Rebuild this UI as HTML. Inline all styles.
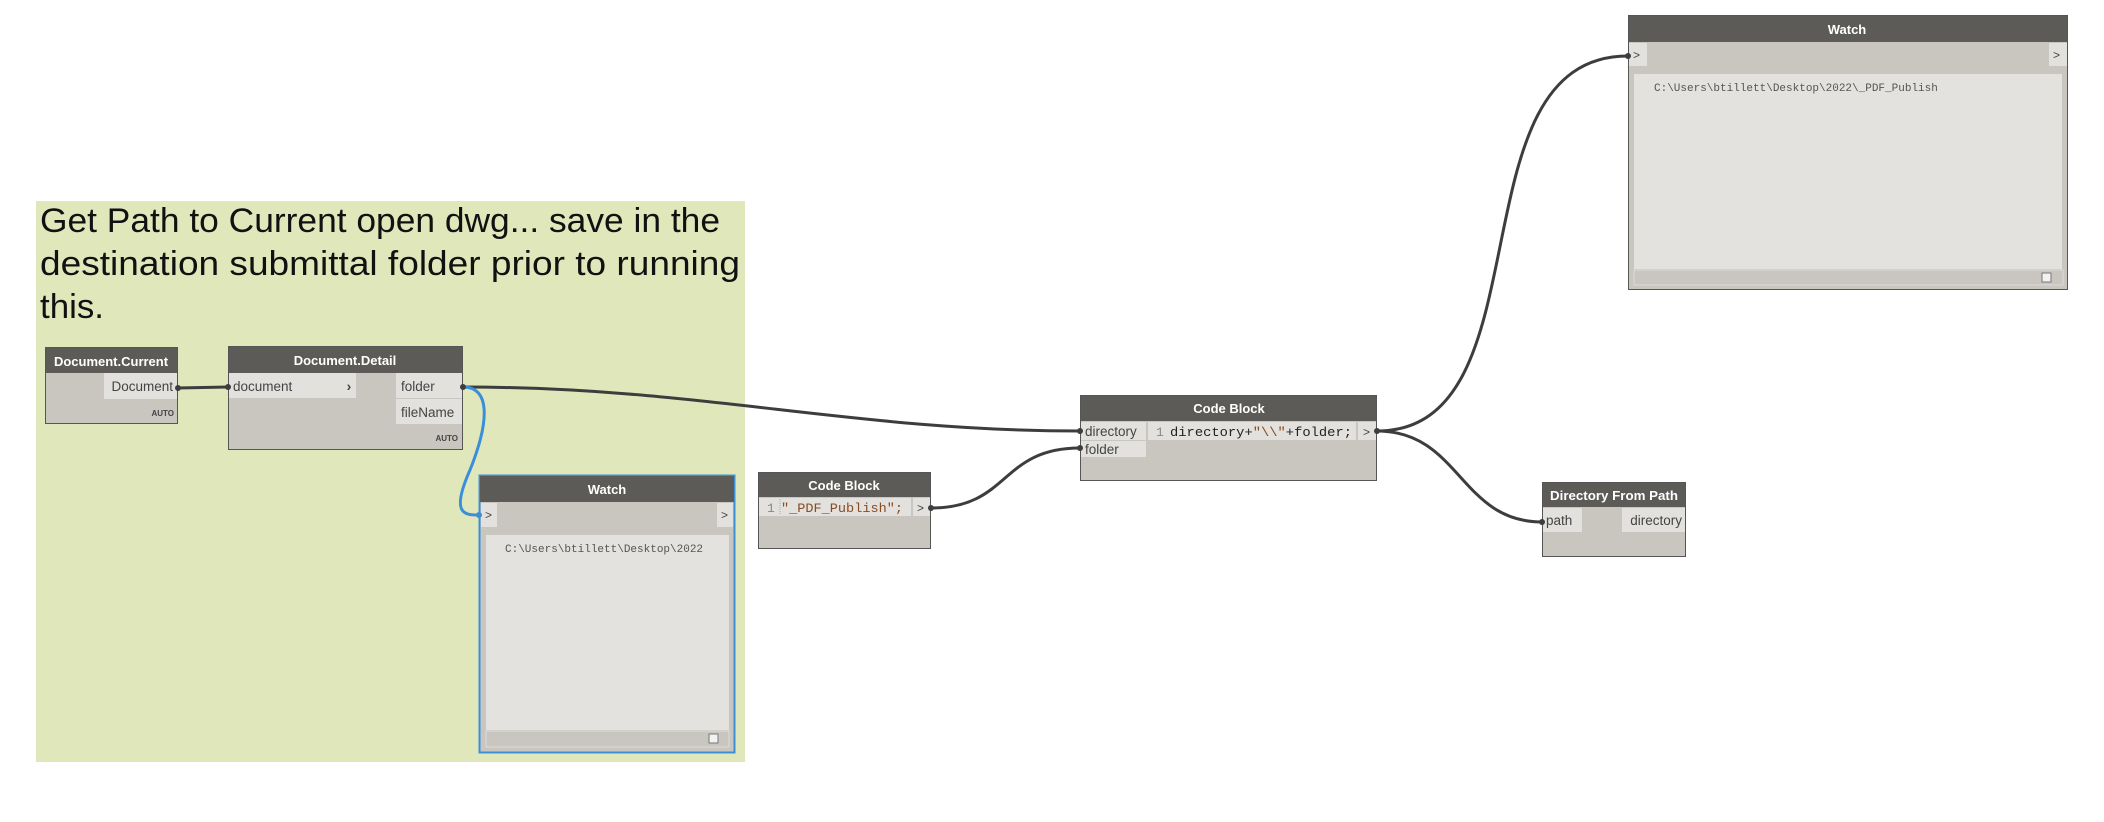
<!DOCTYPE html>
<html><head><meta charset="utf-8"><style>
html,body{margin:0;padding:0;background:#fff;}
svg{display:block;}
text{font-family:"Liberation Sans",sans-serif;}
.h{fill:#fff;font-size:13px;font-weight:bold;text-anchor:middle;}
.p{fill:#444;font-size:13.5px;}
.m{font-family:"Liberation Mono",monospace;}
</style></head><body>
<svg width="2104" height="822" viewBox="0 0 2104 822" xmlns="http://www.w3.org/2000/svg">
<rect x="36" y="201" width="709" height="561" fill="#e0e8bb"/>
<text x="40" y="232" font-size="34" fill="#111" textLength="680" lengthAdjust="spacingAndGlyphs">Get Path to Current open dwg... save in the</text>
<text x="40" y="275" font-size="34" fill="#111" textLength="700" lengthAdjust="spacingAndGlyphs">destination submittal folder prior to running</text>
<text x="40" y="318" font-size="34" fill="#111" textLength="64" lengthAdjust="spacingAndGlyphs">this.</text>

<g fill="none" stroke="#3d3d3d" stroke-width="3">
<path d="M178,388 L228,387"/>
<path d="M463,387 C700,387 850,431 1080,431"/>
<path d="M931,508 C1010,508 1000,448 1080,448"/>
<path d="M1377,431 C1550,431 1450,56 1628,56"/>
<path d="M1377,431 C1460,431 1460,522 1542,522"/>
</g>
<path d="M463,387 C490,387 490,420 470,470 C450,515 465,515 479,515" fill="none" stroke="#3b8fd9" stroke-width="3"/>

<rect x="45.5" y="347.5" width="132" height="76" fill="#c9c5bf" stroke="#555"/>
<rect x="46" y="348" width="131" height="25" fill="#5c5b58"/>
<text class="h" x="111" y="366">Document.Current</text>
<rect x="104" y="373" width="73" height="26" fill="#e2e1dd"/>
<text class="p" x="173" y="391" text-anchor="end">Document</text>
<text x="174" y="416" font-size="8" font-weight="bold" fill="#444" text-anchor="end">AUTO</text>

<rect x="228.5" y="346.5" width="234" height="103" fill="#c9c5bf" stroke="#555"/>
<rect x="229" y="347" width="233" height="26" fill="#5c5b58"/>
<text class="h" x="345" y="365">Document.Detail</text>
<rect x="229" y="373" width="127" height="25" fill="#e2e1dd"/>
<text class="p" x="233" y="391">document</text>
<text x="349" y="391" font-size="14" font-weight="bold" fill="#444" text-anchor="middle">›</text>
<rect x="396" y="373" width="66" height="25" fill="#e2e1dd"/>
<text class="p" x="401" y="391">folder</text>
<rect x="396" y="399" width="66" height="25" fill="#e2e1dd"/>
<text class="p" x="401" y="417">fileName</text>
<text x="458" y="441" font-size="8" font-weight="bold" fill="#444" text-anchor="end">AUTO</text>

<rect x="479.5" y="475.5" width="255" height="277" fill="#c9c5bf" stroke="#3b8fd9" stroke-width="2"/>
<rect x="480" y="476" width="254" height="26" fill="#5c5b58"/>
<text class="h" x="607" y="494">Watch</text>
<rect x="481" y="503" width="16" height="24" fill="#e2e1dd"/>
<text x="485" y="519" font-size="12" fill="#444">&gt;</text>
<rect x="717" y="503" width="16" height="24" fill="#e2e1dd"/>
<text x="721" y="519" font-size="12" fill="#444">&gt;</text>
<rect x="486" y="535" width="243" height="195" fill="#e3e2de"/>
<text class="m" x="505" y="552" font-size="11" fill="#555">C:\Users\btillett\Desktop\2022</text>
<rect x="486" y="731" width="243" height="16" fill="#c9c5bf" stroke="#ddd"/>
<rect x="709" y="734" width="9" height="9" fill="#f2f2f2" stroke="#777"/>

<rect x="758.5" y="472.5" width="172" height="76" fill="#c9c5bf" stroke="#555"/>
<rect x="759" y="473" width="171" height="24" fill="#5c5b58"/>
<text class="h" x="844" y="490">Code Block</text>
<rect x="759" y="498" width="152" height="18" fill="#e2e1dd"/>
<text class="m" x="767" y="512" font-size="13" fill="#888">1</text>
<line x1="780" y1="499" x2="780" y2="515" stroke="#aaa" stroke-dasharray="1,1"/>
<text class="m" x="781" y="512" font-size="13" fill="#8a4b22" textLength="122" lengthAdjust="spacingAndGlyphs">"_PDF_Publish";</text>
<rect x="913" y="498" width="17" height="18" fill="#e2e1dd"/>
<text x="917" y="512" font-size="12" fill="#444">&gt;</text>

<rect x="1080.5" y="395.5" width="296" height="85" fill="#c9c5bf" stroke="#555"/>
<rect x="1081" y="396" width="295" height="25" fill="#5c5b58"/>
<text class="h" x="1229" y="413">Code Block</text>
<rect x="1081" y="422" width="65" height="18" fill="#e2e1dd"/>
<text class="p" x="1085" y="436" font-size="13">directory</text>
<rect x="1081" y="441" width="65" height="16" fill="#e2e1dd"/>
<text class="p" x="1085" y="454" font-size="13">folder</text>
<rect x="1148" y="422" width="208" height="18" fill="#e2e1dd"/>
<text class="m" x="1156" y="436" font-size="13" fill="#888">1</text>
<text class="m" x="1170" y="436" font-size="13" fill="#222" textLength="182" lengthAdjust="spacingAndGlyphs">directory+<tspan fill="#8a4b22">"\\"</tspan>+folder;</text>
<rect x="1358" y="422" width="18" height="18" fill="#e2e1dd"/>
<text x="1363" y="436" font-size="12" fill="#444">&gt;</text>

<rect x="1542.5" y="482.5" width="143" height="74" fill="#c9c5bf" stroke="#555"/>
<rect x="1543" y="483" width="142" height="24" fill="#5c5b58"/>
<text class="h" x="1614" y="500" textLength="128" lengthAdjust="spacingAndGlyphs">Directory From Path</text>
<rect x="1543" y="508" width="39" height="24" fill="#e2e1dd"/>
<text class="p" x="1546" y="525" font-size="13">path</text>
<rect x="1622" y="508" width="63" height="24" fill="#e2e1dd"/>
<text class="p" x="1682" y="525" font-size="13" text-anchor="end">directory</text>

<rect x="1628.5" y="15.5" width="439" height="274" fill="#c9c5bf" stroke="#555"/>
<rect x="1629" y="16" width="438" height="26" fill="#5c5b58"/>
<text class="h" x="1847" y="34">Watch</text>
<rect x="1629" y="43" width="18" height="23" fill="#e2e1dd"/>
<text x="1633" y="59" font-size="12" fill="#444">&gt;</text>
<rect x="2049" y="43" width="18" height="23" fill="#e2e1dd"/>
<text x="2053" y="59" font-size="12" fill="#444">&gt;</text>
<rect x="1634" y="74" width="428" height="195" fill="#e3e2de"/>
<text class="m" x="1654" y="91" font-size="11" fill="#555">C:\Users\btillett\Desktop\2022\_PDF_Publish</text>
<rect x="1634" y="270" width="429" height="15" fill="#c9c5bf" stroke="#ddd"/>
<rect x="2042" y="273" width="9" height="9" fill="#f2f2f2" stroke="#777"/>

<g fill="#3d3d3d">
<circle cx="178" cy="388" r="3"/><circle cx="228" cy="387" r="3"/>
<circle cx="463" cy="387" r="3"/><circle cx="1080" cy="431" r="3"/>
<circle cx="1080" cy="448" r="3"/><circle cx="931" cy="508" r="3"/>
<circle cx="1377" cy="431" r="3"/><circle cx="1628" cy="56" r="3"/>
<circle cx="1542" cy="522" r="3"/>
</g>
<circle cx="479" cy="515" r="3" fill="#3b8fd9"/>
</svg>
</body></html>
